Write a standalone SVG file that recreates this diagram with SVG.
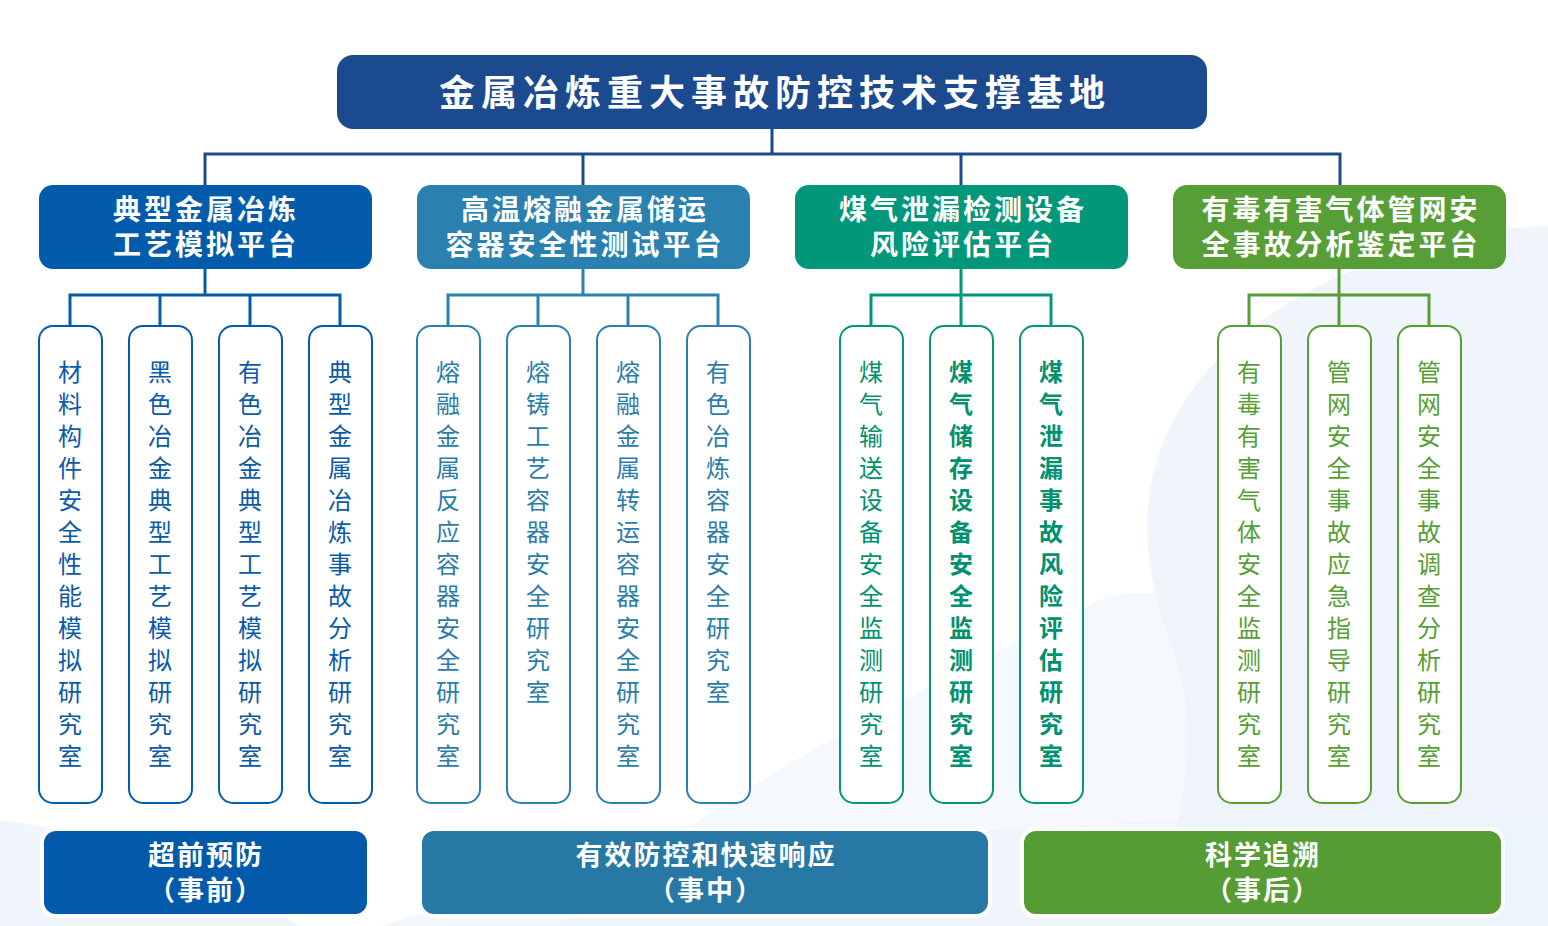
<svg xmlns="http://www.w3.org/2000/svg" width="1548" height="926" viewBox="0 0 1548 926">
<style>
.t{font-family:"Noto Sans CJK SC","Noto Sans CJK JP",sans-serif;fill:#fff;font-weight:700;text-anchor:middle}
.v{font-family:"Noto Sans CJK SC","Noto Sans CJK JP",sans-serif;font-size:24px;text-anchor:middle}
.sub{fill:#fff;stroke-width:2}
.c{fill:none;stroke-width:3}
</style>
<rect width="1548" height="926" fill="#fff"/>
<g id="bg" fill="#eef4fb">
<path d="M1548 226 C1400 232 1260 300 1200 380 C1130 470 1140 560 1170 640 C1200 720 1190 800 1150 926 L1548 926 Z" opacity="0.9"/>
<path d="M0 820 C150 840 260 900 300 926 L0 926 Z" opacity="0.8"/>
<path d="M560 926 C700 800 900 700 1100 600 C1200 560 1300 700 1548 700 L1548 926 Z" opacity="0.6"/>
<path d="M380 926 C600 860 900 820 1548 810 L1548 926 Z" opacity="0.7"/>
</g>
<g id="connectors">
<path class="c" stroke="#1c4a8e" d="M772 129 V154 M205 185 V154 H1340 V185 M583 154 V185 M961 154 V185"/>
<path class="c" stroke="#035bab" d="M205 269 V295 M70 325 V295 H340 V325 M160 295 V325 M250 295 V325"/>
<path class="c" stroke="#2a80ae" d="M583 269 V295 M448 325 V295 H718 V325 M538 295 V325 M628 295 V325"/>
<path class="c" stroke="#00977a" d="M961 269 V325 M871 325 V295 H1051 V325"/>
<path class="c" stroke="#589e36" d="M1339 269 V325 M1249 325 V295 H1429 V325"/>
</g>
<g id="root">
<rect x="337" y="55" width="870" height="74" rx="16" fill="#1c4a8e"/>
<text class="t" x="775" y="106" font-size="36" letter-spacing="6">金属冶炼重大事故防控技术支撑基地</text>
</g>
<g id="p1">
<rect x="39" y="185" width="333" height="84" rx="14" fill="#035bab"/>
<text class="t" font-size="28" letter-spacing="3"><tspan x="206" y="220">典型金属冶炼</tspan><tspan x="206" y="255">工艺模拟平台</tspan></text>
</g>
<g id="p2">
<rect x="417" y="185" width="333" height="84" rx="14" fill="#2a80ae"/>
<text class="t" font-size="28" letter-spacing="3"><tspan x="585" y="220">高温熔融金属储运</tspan><tspan x="585" y="255">容器安全性测试平台</tspan></text>
</g>
<g id="p3">
<rect x="795" y="185" width="333" height="84" rx="14" fill="#00977a"/>
<text class="t" font-size="28" letter-spacing="3"><tspan x="963" y="220">煤气泄漏检测设备</tspan><tspan x="963" y="255">风险评估平台</tspan></text>
</g>
<g id="p4">
<rect x="1173" y="185" width="333" height="84" rx="14" fill="#589e36"/>
<text class="t" font-size="28" letter-spacing="3"><tspan x="1341" y="220">有毒有害气体管网安</tspan><tspan x="1341" y="255">全事故分析鉴定平台</tspan></text>
</g>
<g id="s1a"><rect class="sub" x="39" y="326" width="63" height="477" rx="14" stroke="#035bab"/><text class="v" fill="#0a5aa8"><tspan x="70" y="381">材</tspan><tspan x="70" dy="32">料</tspan><tspan x="70" dy="32">构</tspan><tspan x="70" dy="32">件</tspan><tspan x="70" dy="32">安</tspan><tspan x="70" dy="32">全</tspan><tspan x="70" dy="32">性</tspan><tspan x="70" dy="32">能</tspan><tspan x="70" dy="32">模</tspan><tspan x="70" dy="32">拟</tspan><tspan x="70" dy="32">研</tspan><tspan x="70" dy="32">究</tspan><tspan x="70" dy="32">室</tspan></text></g>
<g id="s1b"><rect class="sub" x="129" y="326" width="63" height="477" rx="14" stroke="#035bab"/><text class="v" fill="#0a5aa8"><tspan x="160" y="381">黑</tspan><tspan x="160" dy="32">色</tspan><tspan x="160" dy="32">冶</tspan><tspan x="160" dy="32">金</tspan><tspan x="160" dy="32">典</tspan><tspan x="160" dy="32">型</tspan><tspan x="160" dy="32">工</tspan><tspan x="160" dy="32">艺</tspan><tspan x="160" dy="32">模</tspan><tspan x="160" dy="32">拟</tspan><tspan x="160" dy="32">研</tspan><tspan x="160" dy="32">究</tspan><tspan x="160" dy="32">室</tspan></text></g>
<g id="s1c"><rect class="sub" x="219" y="326" width="63" height="477" rx="14" stroke="#035bab"/><text class="v" fill="#0a5aa8"><tspan x="250" y="381">有</tspan><tspan x="250" dy="32">色</tspan><tspan x="250" dy="32">冶</tspan><tspan x="250" dy="32">金</tspan><tspan x="250" dy="32">典</tspan><tspan x="250" dy="32">型</tspan><tspan x="250" dy="32">工</tspan><tspan x="250" dy="32">艺</tspan><tspan x="250" dy="32">模</tspan><tspan x="250" dy="32">拟</tspan><tspan x="250" dy="32">研</tspan><tspan x="250" dy="32">究</tspan><tspan x="250" dy="32">室</tspan></text></g>
<g id="s1d"><rect class="sub" x="309" y="326" width="63" height="477" rx="14" stroke="#035bab"/><text class="v" fill="#0a5aa8"><tspan x="340" y="381">典</tspan><tspan x="340" dy="32">型</tspan><tspan x="340" dy="32">金</tspan><tspan x="340" dy="32">属</tspan><tspan x="340" dy="32">冶</tspan><tspan x="340" dy="32">炼</tspan><tspan x="340" dy="32">事</tspan><tspan x="340" dy="32">故</tspan><tspan x="340" dy="32">分</tspan><tspan x="340" dy="32">析</tspan><tspan x="340" dy="32">研</tspan><tspan x="340" dy="32">究</tspan><tspan x="340" dy="32">室</tspan></text></g>
<g id="s2a"><rect class="sub" x="417" y="326" width="63" height="477" rx="14" stroke="#2a80ae"/><text class="v" fill="#2a7dab"><tspan x="448" y="381">熔</tspan><tspan x="448" dy="32">融</tspan><tspan x="448" dy="32">金</tspan><tspan x="448" dy="32">属</tspan><tspan x="448" dy="32">反</tspan><tspan x="448" dy="32">应</tspan><tspan x="448" dy="32">容</tspan><tspan x="448" dy="32">器</tspan><tspan x="448" dy="32">安</tspan><tspan x="448" dy="32">全</tspan><tspan x="448" dy="32">研</tspan><tspan x="448" dy="32">究</tspan><tspan x="448" dy="32">室</tspan></text></g>
<g id="s2b"><rect class="sub" x="507" y="326" width="63" height="477" rx="14" stroke="#2a80ae"/><text class="v" fill="#2a7dab"><tspan x="538" y="381">熔</tspan><tspan x="538" dy="32">铸</tspan><tspan x="538" dy="32">工</tspan><tspan x="538" dy="32">艺</tspan><tspan x="538" dy="32">容</tspan><tspan x="538" dy="32">器</tspan><tspan x="538" dy="32">安</tspan><tspan x="538" dy="32">全</tspan><tspan x="538" dy="32">研</tspan><tspan x="538" dy="32">究</tspan><tspan x="538" dy="32">室</tspan></text></g>
<g id="s2c"><rect class="sub" x="597" y="326" width="63" height="477" rx="14" stroke="#2a80ae"/><text class="v" fill="#2a7dab"><tspan x="628" y="381">熔</tspan><tspan x="628" dy="32">融</tspan><tspan x="628" dy="32">金</tspan><tspan x="628" dy="32">属</tspan><tspan x="628" dy="32">转</tspan><tspan x="628" dy="32">运</tspan><tspan x="628" dy="32">容</tspan><tspan x="628" dy="32">器</tspan><tspan x="628" dy="32">安</tspan><tspan x="628" dy="32">全</tspan><tspan x="628" dy="32">研</tspan><tspan x="628" dy="32">究</tspan><tspan x="628" dy="32">室</tspan></text></g>
<g id="s2d"><rect class="sub" x="687" y="326" width="63" height="477" rx="14" stroke="#2a80ae"/><text class="v" fill="#2a7dab"><tspan x="718" y="381">有</tspan><tspan x="718" dy="32">色</tspan><tspan x="718" dy="32">冶</tspan><tspan x="718" dy="32">炼</tspan><tspan x="718" dy="32">容</tspan><tspan x="718" dy="32">器</tspan><tspan x="718" dy="32">安</tspan><tspan x="718" dy="32">全</tspan><tspan x="718" dy="32">研</tspan><tspan x="718" dy="32">究</tspan><tspan x="718" dy="32">室</tspan></text></g>
<g id="s3a"><rect class="sub" x="840" y="326" width="63" height="477" rx="14" stroke="#00977a"/><text class="v" fill="#00916f"><tspan x="871" y="381">煤</tspan><tspan x="871" dy="32">气</tspan><tspan x="871" dy="32">输</tspan><tspan x="871" dy="32">送</tspan><tspan x="871" dy="32">设</tspan><tspan x="871" dy="32">备</tspan><tspan x="871" dy="32">安</tspan><tspan x="871" dy="32">全</tspan><tspan x="871" dy="32">监</tspan><tspan x="871" dy="32">测</tspan><tspan x="871" dy="32">研</tspan><tspan x="871" dy="32">究</tspan><tspan x="871" dy="32">室</tspan></text></g>
<g id="s3b"><rect class="sub" x="930" y="326" width="63" height="477" rx="14" stroke="#00977a"/><text class="v" fill="#00916f" font-weight="700"><tspan x="961" y="381">煤</tspan><tspan x="961" dy="32">气</tspan><tspan x="961" dy="32">储</tspan><tspan x="961" dy="32">存</tspan><tspan x="961" dy="32">设</tspan><tspan x="961" dy="32">备</tspan><tspan x="961" dy="32">安</tspan><tspan x="961" dy="32">全</tspan><tspan x="961" dy="32">监</tspan><tspan x="961" dy="32">测</tspan><tspan x="961" dy="32">研</tspan><tspan x="961" dy="32">究</tspan><tspan x="961" dy="32">室</tspan></text></g>
<g id="s3c"><rect class="sub" x="1020" y="326" width="63" height="477" rx="14" stroke="#00977a"/><text class="v" fill="#00916f" font-weight="700"><tspan x="1051" y="381">煤</tspan><tspan x="1051" dy="32">气</tspan><tspan x="1051" dy="32">泄</tspan><tspan x="1051" dy="32">漏</tspan><tspan x="1051" dy="32">事</tspan><tspan x="1051" dy="32">故</tspan><tspan x="1051" dy="32">风</tspan><tspan x="1051" dy="32">险</tspan><tspan x="1051" dy="32">评</tspan><tspan x="1051" dy="32">估</tspan><tspan x="1051" dy="32">研</tspan><tspan x="1051" dy="32">究</tspan><tspan x="1051" dy="32">室</tspan></text></g>
<g id="s4a"><rect class="sub" x="1218" y="326" width="63" height="477" rx="14" stroke="#589e36"/><text class="v" fill="#55a035"><tspan x="1249" y="381">有</tspan><tspan x="1249" dy="32">毒</tspan><tspan x="1249" dy="32">有</tspan><tspan x="1249" dy="32">害</tspan><tspan x="1249" dy="32">气</tspan><tspan x="1249" dy="32">体</tspan><tspan x="1249" dy="32">安</tspan><tspan x="1249" dy="32">全</tspan><tspan x="1249" dy="32">监</tspan><tspan x="1249" dy="32">测</tspan><tspan x="1249" dy="32">研</tspan><tspan x="1249" dy="32">究</tspan><tspan x="1249" dy="32">室</tspan></text></g>
<g id="s4b"><rect class="sub" x="1308" y="326" width="63" height="477" rx="14" stroke="#589e36"/><text class="v" fill="#55a035"><tspan x="1339" y="381">管</tspan><tspan x="1339" dy="32">网</tspan><tspan x="1339" dy="32">安</tspan><tspan x="1339" dy="32">全</tspan><tspan x="1339" dy="32">事</tspan><tspan x="1339" dy="32">故</tspan><tspan x="1339" dy="32">应</tspan><tspan x="1339" dy="32">急</tspan><tspan x="1339" dy="32">指</tspan><tspan x="1339" dy="32">导</tspan><tspan x="1339" dy="32">研</tspan><tspan x="1339" dy="32">究</tspan><tspan x="1339" dy="32">室</tspan></text></g>
<g id="s4c"><rect class="sub" x="1398" y="326" width="63" height="477" rx="14" stroke="#589e36"/><text class="v" fill="#55a035"><tspan x="1429" y="381">管</tspan><tspan x="1429" dy="32">网</tspan><tspan x="1429" dy="32">安</tspan><tspan x="1429" dy="32">全</tspan><tspan x="1429" dy="32">事</tspan><tspan x="1429" dy="32">故</tspan><tspan x="1429" dy="32">调</tspan><tspan x="1429" dy="32">查</tspan><tspan x="1429" dy="32">分</tspan><tspan x="1429" dy="32">析</tspan><tspan x="1429" dy="32">研</tspan><tspan x="1429" dy="32">究</tspan><tspan x="1429" dy="32">室</tspan></text></g>
<g id="b1">
<rect x="42" y="829" width="327" height="87" rx="14" fill="#045aaa" stroke="#fff" stroke-width="4"/>
<text class="t" font-size="27" letter-spacing="2"><tspan x="206" y="865">超前预防</tspan><tspan x="206" y="900">（事前）</tspan></text>
</g>
<g id="b2">
<rect x="420" y="829" width="570" height="87" rx="14" fill="#2778a4" stroke="#fff" stroke-width="4"/>
<text class="t" font-size="27" letter-spacing="2"><tspan x="706" y="865">有效防控和快速响应</tspan><tspan x="706" y="900">（事中）</tspan></text>
</g>
<g id="b3">
<rect x="1022" y="829" width="481" height="87" rx="14" fill="#569c35" stroke="#fff" stroke-width="4"/>
<text class="t" font-size="27" letter-spacing="2"><tspan x="1263" y="865">科学追溯</tspan><tspan x="1263" y="900">（事后）</tspan></text>
</g>
</svg>
